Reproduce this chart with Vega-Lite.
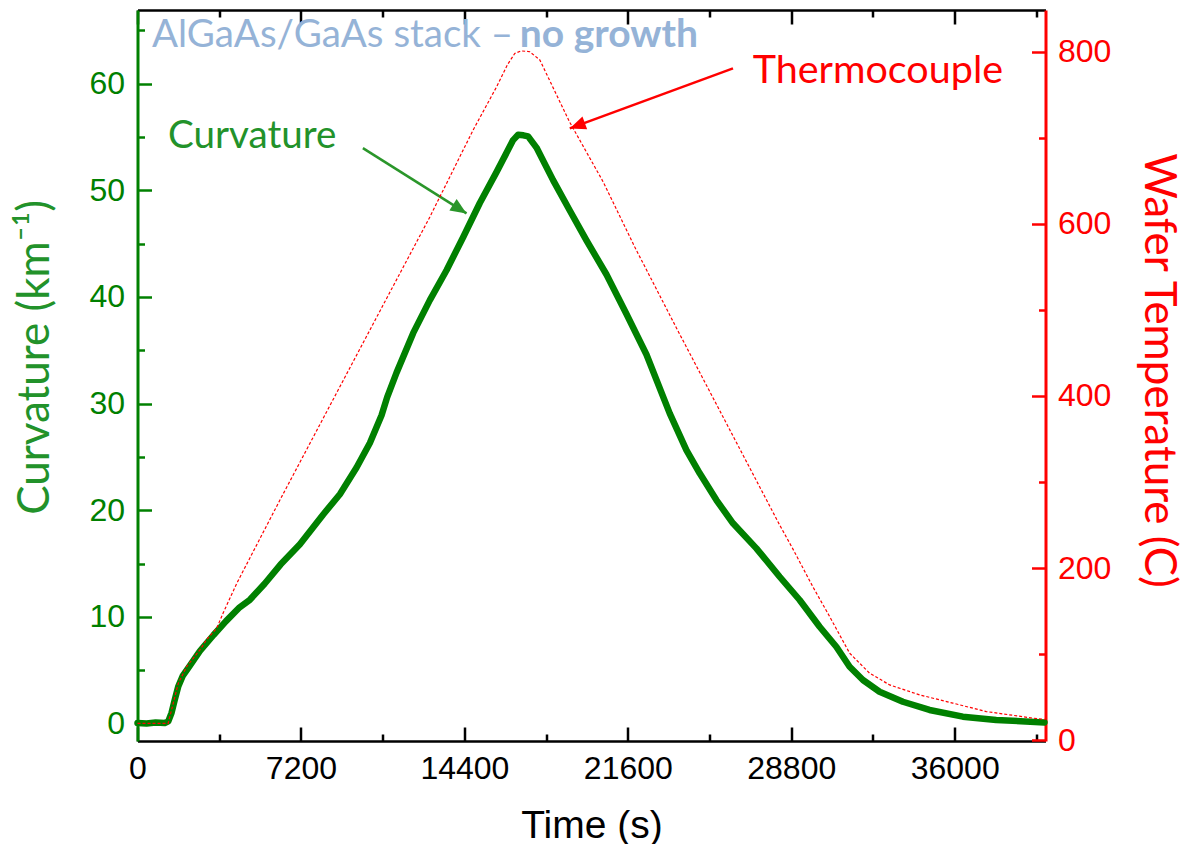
{
  "$schema": "https://vega.github.io/schema/vega-lite/v6.json",
  "width": 908,
  "height": 731,
  "autosize": {"type": "none"},
  "padding": {"left": 137.5, "top": 10, "right": 148.5, "bottom": 103},
  "background": "white",
  "config": {
    "view": {"stroke": null},
    "axis": {"grid": false, "labelFont": "Liberation Sans", "labelFontSize": 32, "titleFont": "Lato", "titleFontWeight": "normal", "titleFontSize": 44, "domainWidth": 2.5, "tickWidth": 2.5, "labelPadding": 27}
  },
  "datasets": {
    "curv": [
      {"t": 0, "c": 0.05}, {"t": 400, "c": 0.0}, {"t": 800, "c": 0.1}, {"t": 1200, "c": 0.05},
      {"t": 1356, "c": 0.2}, {"t": 1500, "c": 1.0}, {"t": 1650, "c": 2.3}, {"t": 1800, "c": 3.5},
      {"t": 2000, "c": 4.5}, {"t": 2300, "c": 5.4}, {"t": 2750, "c": 6.8}, {"t": 3350, "c": 8.3},
      {"t": 3900, "c": 9.6}, {"t": 4500, "c": 10.9}, {"t": 4950, "c": 11.6}, {"t": 5600, "c": 13.1},
      {"t": 6300, "c": 14.9}, {"t": 7155, "c": 16.8}, {"t": 8181, "c": 19.6}, {"t": 8916, "c": 21.5},
      {"t": 9651, "c": 24.0}, {"t": 10237, "c": 26.3}, {"t": 10752, "c": 28.9}, {"t": 11000, "c": 30.6},
      {"t": 11413, "c": 32.9}, {"t": 12143, "c": 36.6}, {"t": 12879, "c": 39.7},
      {"t": 13614, "c": 42.5}, {"t": 14345, "c": 45.6}, {"t": 15080, "c": 48.8}, {"t": 15815, "c": 51.7},
      {"t": 16546, "c": 54.7}, {"t": 16767, "c": 55.2}, {"t": 17000, "c": 55.15}, {"t": 17207, "c": 55.05},
      {"t": 17576, "c": 54.0}, {"t": 18307, "c": 50.95}, {"t": 19043, "c": 48.1}, {"t": 19778, "c": 45.3},
      {"t": 20659, "c": 42.1}, {"t": 21540, "c": 38.4}, {"t": 22420, "c": 34.6}, {"t": 23446, "c": 29.08},
      {"t": 24181, "c": 25.64}, {"t": 24767, "c": 23.46}, {"t": 25502, "c": 20.95}, {"t": 26233, "c": 18.77},
      {"t": 27263, "c": 16.42}, {"t": 28289, "c": 13.76}, {"t": 29169, "c": 11.58}, {"t": 30050, "c": 9.07},
      {"t": 30785, "c": 7.2}, {"t": 31372, "c": 5.32}, {"t": 31958, "c": 4.08}, {"t": 32691, "c": 2.98},
      {"t": 33718, "c": 2.04}, {"t": 34892, "c": 1.27}, {"t": 36359, "c": 0.64}, {"t": 37829, "c": 0.33},
      {"t": 39956, "c": 0.1}
    ],
    "temp": [
      {"t": 0, "T": 19.5}, {"t": 1350, "T": 19.5}, {"t": 1576, "T": 43}, {"t": 1796, "T": 66},
      {"t": 2166, "T": 85.5}, {"t": 2752, "T": 105}, {"t": 3047, "T": 117}, {"t": 3487, "T": 130},
      {"t": 3778, "T": 148}, {"t": 4368, "T": 182}, {"t": 6274, "T": 279}, {"t": 10897, "T": 509.5},
      {"t": 12879, "T": 608}, {"t": 14785, "T": 709}, {"t": 15815, "T": 759}, {"t": 16300, "T": 785},
      {"t": 16620, "T": 798}, {"t": 16900, "T": 801}, {"t": 17282, "T": 800}, {"t": 17722, "T": 790.5},
      {"t": 19042, "T": 718}, {"t": 20509, "T": 649}, {"t": 21906, "T": 573}, {"t": 23741, "T": 479},
      {"t": 28289, "T": 250}, {"t": 28875, "T": 222}, {"t": 29756, "T": 178}, {"t": 30491, "T": 143.6},
      {"t": 31372, "T": 101}, {"t": 32252, "T": 77.8}, {"t": 33133, "T": 64.2}, {"t": 34454, "T": 52.6},
      {"t": 35919, "T": 43}, {"t": 37390, "T": 33.2}, {"t": 39442, "T": 25.6}, {"t": 40000, "T": 24}
    ],
    "arrows": [
      {"arrow": "curvature", "t": 9929, "c": 53.95, "part": "tail"},
      {"arrow": "curvature", "t": 14494, "c": 47.83, "part": "tip"},
      {"arrow": "thermocouple", "t": 26233, "c": 61.42, "part": "tail"},
      {"arrow": "thermocouple", "t": 19043, "c": 55.8, "part": "tip"}
    ],
    "notes": [
      {"kind": "title", "t": 638, "c": 63.45, "label": "AlGaAs/GaAs stack –"},
      {"kind": "titlebold", "t": 16841, "c": 63.45, "label": "no growth"},
      {"kind": "curv", "t": 1343, "c": 53.98, "label": "Curvature"},
      {"kind": "thermo", "t": 27100, "c": 60.07, "label": "Thermocouple"}
    ]
  },
  "layer": [
    {
      "layer": [
        {
          "data": {"name": "curv"},
          "mark": {"type": "line", "color": "#008000", "strokeWidth": 6.5, "strokeJoin": "round", "strokeCap": "round"},
          "encoding": {
            "x": {
              "field": "t", "type": "quantitative",
              "scale": {"domain": [0, 40000], "nice": false, "zero": false},
              "axis": {
                "orient": "bottom", "title": "Time (s)", "titleFont": "Liberation Sans", "titleFontSize": 39, "titleColor": "black",
                "titleX": 454, "titleY": 96, "titleBaseline": "alphabetic", "titleAlign": "center",
                "values": [0, 3600, 7200, 10800, 14400, 18000, 21600, 25200, 28800, 32400, 36000, 39600],
                "format": "d",
                "labelExpr": "datum.value % 7200 === 0 ? datum.label : ''",
                "labelFont": "Liberation Sans", "labelPadding": 26,
                "labelColor": "black", "domainColor": "black", "tickColor": "black",
                "tickSize": {"condition": {"test": "datum.value % 7200 === 0", "value": -14}, "value": -7},
                "labelFlush": false, "labelOverlap": false
              }
            },
            "y": {
              "field": "c", "type": "quantitative",
              "scale": {"domain": [-1.64, 66.9], "nice": false, "zero": false},
              "axis": {
                "orient": "left", "title": "Curvature (km⁻¹)", "titleColor": "#22922a",
                "titleX": -102.5, "titleY": 347, "titleAngle": -90, "titleBaseline": "middle", "titleAlign": "center",
                "values": [0, 5, 10, 15, 20, 25, 30, 35, 40, 45, 50, 55, 60, 65],
                "labelExpr": "datum.value % 10 === 0 ? datum.label : ''",
                "labelFont": "Liberation Sans", "labelPadding": 27,
                "labelColor": "#008000", "domainColor": "#008000", "tickColor": "#008000", "domainWidth": 3,
                "tickSize": {"condition": {"test": "datum.value % 10 === 0", "value": -14}, "value": -7},
                "labelFlush": false, "labelOverlap": false
              }
            }
          }
        },
        {
          "data": {"name": "arrows"},
          "mark": {"type": "line", "strokeWidth": 2.5},
          "encoding": {
            "x": {"field": "t", "type": "quantitative"},
            "y": {"field": "c", "type": "quantitative"},
            "detail": {"field": "arrow"},
            "color": {"field": "arrow", "type": "nominal", "scale": {"domain": ["curvature", "thermocouple"], "range": ["#2a962a", "#ff0000"]}, "legend": null}
          }
        },
        {
          "data": {"name": "arrows"},
          "transform": [{"filter": "datum.part === 'tip' && datum.arrow === 'curvature'"}],
          "mark": {"type": "point", "shape": "M0,0L-2,-0.85L-2,0.85Z", "filled": true, "opacity": 1, "size": 256, "angle": 32.4, "color": "#2a962a"},
          "encoding": {
            "x": {"field": "t", "type": "quantitative"},
            "y": {"field": "c", "type": "quantitative"}
          }
        },
        {
          "data": {"name": "arrows"},
          "transform": [{"filter": "datum.part === 'tip' && datum.arrow === 'thermocouple'"}],
          "mark": {"type": "point", "shape": "M0,0L-2,-0.85L-2,0.85Z", "filled": true, "opacity": 1, "size": 256, "angle": 159.8, "color": "#ff0000"},
          "encoding": {
            "x": {"field": "t", "type": "quantitative"},
            "y": {"field": "c", "type": "quantitative"}
          }
        },
        {
          "data": {"name": "notes"},
          "transform": [{"filter": "datum.kind === 'title'"}],
          "mark": {"type": "text", "align": "left", "baseline": "alphabetic", "font": "Lato", "fontSize": 38.5, "color": "#95b3d7"},
          "encoding": {"x": {"field": "t", "type": "quantitative"}, "y": {"field": "c", "type": "quantitative"}, "text": {"field": "label"}}
        },
        {
          "data": {"name": "notes"},
          "transform": [{"filter": "datum.kind === 'titlebold'"}],
          "mark": {"type": "text", "align": "left", "baseline": "alphabetic", "font": "Lato", "fontSize": 39, "fontWeight": "bold", "color": "#95b3d7"},
          "encoding": {"x": {"field": "t", "type": "quantitative"}, "y": {"field": "c", "type": "quantitative"}, "text": {"field": "label"}}
        },
        {
          "data": {"name": "notes"},
          "transform": [{"filter": "datum.kind === 'curv'"}],
          "mark": {"type": "text", "align": "left", "baseline": "alphabetic", "font": "Lato", "fontSize": 38.6, "color": "#22922a"},
          "encoding": {"x": {"field": "t", "type": "quantitative"}, "y": {"field": "c", "type": "quantitative"}, "text": {"field": "label"}}
        },
        {
          "data": {"name": "notes"},
          "transform": [{"filter": "datum.kind === 'thermo'"}],
          "mark": {"type": "text", "align": "left", "baseline": "alphabetic", "font": "Lato", "fontSize": 39.5, "color": "#ff0000"},
          "encoding": {"x": {"field": "t", "type": "quantitative"}, "y": {"field": "c", "type": "quantitative"}, "text": {"field": "label"}}
        }
      ]
    },
    {
      "data": {"name": "temp"},
      "mark": {"type": "line", "color": "#ff0000", "strokeWidth": 1.2, "strokeDash": [3, 2]},
      "encoding": {
        "x": {
          "field": "t", "type": "quantitative",
          "scale": {"domain": [0, 40000], "nice": false, "zero": false},
          "axis": {
            "orient": "top", "title": null, "labels": false,
            "values": [0, 3600, 7200, 10800, 14400, 18000, 21600, 25200, 28800, 32400, 36000, 39600],
            "domainColor": "black", "tickColor": "black",
            "tickSize": {"condition": {"test": "datum.value % 7200 === 0", "value": -14}, "value": -7}
          }
        },
        "y": {
          "field": "T", "type": "quantitative",
          "scale": {"domain": [-1, 848.5], "nice": false, "zero": false},
          "axis": {
            "orient": "right", "title": "Wafer Temperature (C)", "titleColor": "#ff0000",
            "titleX": 111.5, "titleY": 360, "titleAngle": 90, "titleBaseline": "middle", "titleAlign": "center",
            "values": [0, 100, 200, 300, 400, 500, 600, 700, 800],
            "labelExpr": "datum.value % 200 === 0 ? datum.label : ''",
            "labelFont": "Liberation Sans", "labelPadding": 26,
            "labelColor": "#ff0000", "domainColor": "#ff0000", "tickColor": "#ff0000", "domainWidth": 3,
            "tickSize": {"condition": {"test": "datum.value % 200 === 0", "value": -14}, "value": -7},
            "labelFlush": false, "labelOverlap": false
          }
        }
      }
    }
  ],
  "resolve": {"scale": {"y": "independent"}, "axis": {"x": "independent"}}
}
